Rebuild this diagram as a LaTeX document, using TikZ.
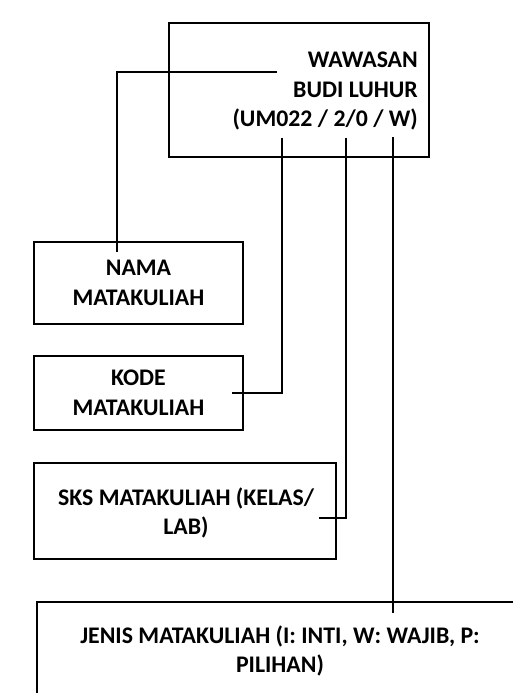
\documentclass[tikz,border=0pt]{standalone}
\usepackage{fontspec}
\setmainfont{Carlito}
\begin{document}
\begin{tikzpicture}[x=1pt,y=-1pt,
  box/.style={draw=black, line width=2pt, rectangle, inner sep=0pt},
  lbl/.style={font=\bfseries\fontsize{23.8}{29.5}\selectfont, align=center, inner sep=0pt},
  wire/.style={line width=2pt, draw=black}]
\useasboundingbox (0,0) rectangle (513,693);
\clip (0,0) rectangle (513,693);
% boxes
\node[box, minimum width=260pt, minimum height=134pt] (top) at (299,90) {};
\node[box, minimum width=209pt, minimum height=82pt] (nama) at (138.5,283) {};
\node[box, minimum width=209pt, minimum height=74pt] (kode) at (138.5,393) {};
\node[box, minimum width=302pt, minimum height=96pt] (sks) at (185,511) {};
\node[box, minimum width=500pt, minimum height=140pt] (jenis) at (287,672) {};
% texts
\node[lbl, align=right, anchor=east] (toptext) at (418,91) {WAWASAN\\BUDI LUHUR\\(UM022 / 2/0 / W)};
\node[lbl] (namatext) at (nama.center) {NAMA\\MATAKULIAH};
\node[lbl] (kodetext) at (kode.center) {KODE\\MATAKULIAH};
\node[lbl] (skstext) at (186,513) {SKS MATAKULIAH (KELAS/\\LAB)};
\node[lbl] (jenistext) at (280,651) {JENIS MATAKULIAH (I: INTI, W: WAJIB, P:\\PILIHAN)};
% connector ends
\coordinate (n1) at (117,252);
\coordinate (n2) at (277,72);
\coordinate (k1) at (232,393);
\coordinate (k2) at (282,138);
\coordinate (s1) at (319,518);
\coordinate (s2) at (346,138);
\coordinate (j1) at (393,613);
\coordinate (j2) at (393,137);
\draw[wire] (n1) |- (n2);
\draw[wire] (k1) -| (k2);
\draw[wire] (s1) -| (s2);
\draw[wire] (j1) -- (j2);
\end{tikzpicture}
\end{document}
